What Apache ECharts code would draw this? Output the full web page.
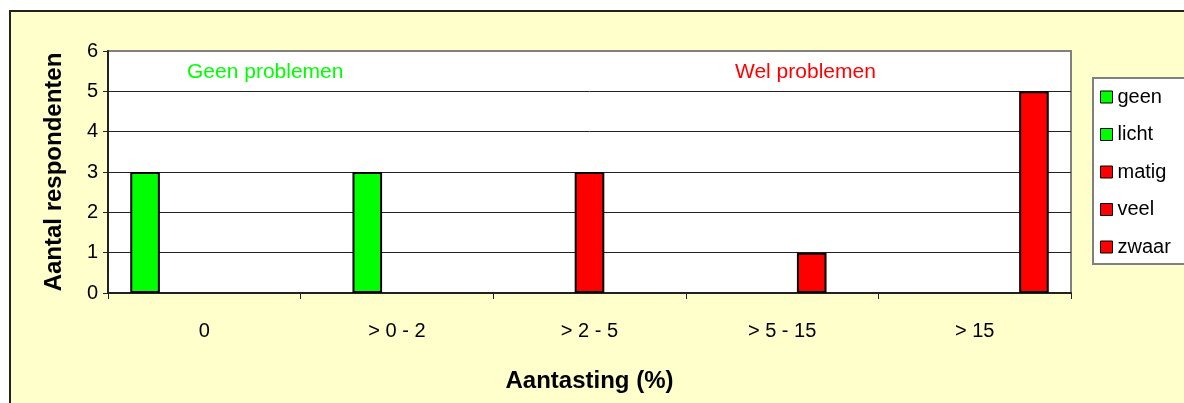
<!DOCTYPE html>
<html>
<head>
	<meta charset="utf-8">
	<title>Aantasting</title>
	<script src="https://cdn.jsdelivr.net/npm/echarts@6/dist/echarts.min.js"></script>
	<style>
		html, body { margin: 0; padding: 0; background: #fff; overflow: hidden; }
		#frame { position: absolute; left: 9px; top: 10px; width: 1300px; height: 500px;
			background: #FFFFCC; border-left: 2px solid #222; border-top: 2px solid #222; }
		#main { position: absolute; left: 0; top: 0; width: 1184px; height: 403px; }
	</style>
</head>
<body>
	<div id="frame"></div>
	<div id="main"></div>
	<script type="text/javascript">
		// categorieen en aantallen per klasse
		var categories = ['0', '> 0 - 2', '> 2 - 5', '> 5 - 15', '> 15'];
		var seriesNames = ['geen', 'licht', 'matig', 'veel', 'zwaar'];
		var geen  = [3, 0, 0, 0, 0];
		var licht = [0, 3, 0, 0, 0];
		var matig = [0, 0, 3, 0, 0];
		var veel  = [0, 0, 0, 1, 0];
		var zwaar = [0, 0, 0, 0, 5];
		var yTicks = [0, 1, 2, 3, 4, 5, 6];

		var green = '#00FF00', red = '#FF0000';
		var colors = [green, green, red, red, red];
		var values = [geen, licht, matig, veel, zwaar];
		var font = 'Arial, "Liberation Sans", sans-serif';

		var myChart = echarts.init(document.getElementById('main'));

		var series = seriesNames.map(function (name, i) {
			return {
				name: name,
				type: 'bar',
				// nul-balken zonder rand, anders ontstaat een streepje op de as
				data: values[i].map(function (v) {
					return v === 0 ? { value: 0, itemStyle: { borderWidth: 0 } } : v;
				}),
				barGap: '0%',
				barCategoryGap: '23.1%',
				itemStyle: { color: colors[i], borderColor: '#000', borderWidth: 2 },
				emphasis: { disabled: true }
			};
		});

		var option = {
			backgroundColor: 'transparent',
			animation: false,
			textStyle: { fontFamily: font },
			grid: {
				left: 108, right: 113, top: 51, bottom: 110,
				show: true, backgroundColor: '#fff', borderColor: '#808080', borderWidth: 2,
				containLabel: false, outerBoundsMode: 'none'
			},
			legend: {
				orient: 'vertical',
				left: 1093, top: 78,
				data: seriesNames,
				icon: 'rect',
				backgroundColor: '#fff',
				borderColor: '#808080', borderWidth: 2, borderRadius: 0,
				padding: [9, 40, 7, 7],
				itemWidth: 12, itemHeight: 12, itemGap: 17.5,
				selectedMode: false,
				itemStyle: { borderColor: '#000', borderWidth: 1 },
				textStyle: { fontSize: 20, lineHeight: 20, color: '#000', fontFamily: font }
			},
			xAxis: {
				type: 'category',
				data: categories,
				name: 'Aantasting (%)',
				nameLocation: 'middle',
				nameGap: 76,
				nameTextStyle: { fontSize: 24, fontWeight: 'bold', color: '#000', fontFamily: font },
				axisLine: { lineStyle: { color: '#222', width: 2 } },
				axisTick: { show: true, length: 6, lineStyle: { color: '#222' } },
				axisLabel: { fontSize: 20, color: '#000', margin: 28, fontFamily: font },
				splitLine: { show: false }
			},
			yAxis: {
				type: 'value',
				min: yTicks[0], max: yTicks[yTicks.length - 1], interval: 1,
				name: 'Aantal respondenten',
				nameLocation: 'middle',
				nameGap: 42,
				nameTextStyle: { fontSize: 24, fontWeight: 'bold', color: '#000', fontFamily: font },
				axisLine: { show: true, lineStyle: { color: '#222', width: 2 } },
				axisTick: { show: true, length: 5, lineStyle: { color: '#222' } },
				axisLabel: { fontSize: 20, color: '#000', margin: 10, fontFamily: font },
				splitLine: {
					show: true,
					lineStyle: { color: ['#222', '#222', '#222', '#222', '#222', '#222', '#808080'], width: 1 }
				}
			},
			graphic: [
				{ type: 'text', left: 187, top: 62, z: 10,
				  style: { text: 'Geen problemen', fill: green, font: '21px ' + font } },
				{ type: 'text', left: 735, top: 62, z: 10,
				  style: { text: 'Wel problemen', fill: red, font: '21px ' + font } }
			],
			series: series
		};

		myChart.setOption(option);
	</script>
</body>
</html>
